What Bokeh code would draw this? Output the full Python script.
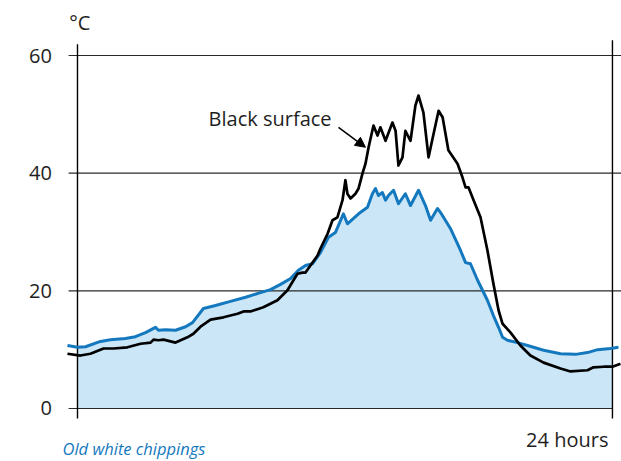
import numpy as np
from bokeh.plotting import figure
from bokeh.models import Range1d, Label, Arrow, NormalHead
from bokeh.embed import file_html
from bokeh.resources import INLINE

# hours of the day and surface temperatures (°C)
white_hours = [-0.45, 0.0, 0.36, 1.03, 1.48, 2.15, 2.60, 3.05, 3.50, 3.63, 3.95, 4.40, 4.85, 5.16,
               5.65, 6.19, 6.86, 7.54, 8.21, 8.66, 9.11, 9.56, 9.91, 10.23, 10.54, 10.90, 11.26,
               11.57, 11.93, 12.11, 12.61, 13.01, 13.23, 13.37, 13.50, 13.68, 13.82, 13.95, 14.18,
               14.40, 14.71, 14.94, 15.30, 15.61, 15.84, 16.15, 16.29, 16.73, 17.18, 17.41, 17.63,
               17.95, 18.39, 18.66, 18.89, 19.07, 19.29, 19.74, 20.19, 20.91, 21.67, 22.34, 22.88,
               23.33, 23.91, 24.0, 24.27]
white_temp = [10.7, 10.4, 10.5, 11.4, 11.7, 11.9, 12.2, 12.9, 13.8, 13.3, 13.4, 13.3, 13.9, 14.6,
              17.0, 17.5, 18.2, 18.9, 19.7, 20.2, 21.1, 22.1, 23.5, 24.3, 24.6, 26.5, 29.1,
              29.9, 33.1, 31.4, 33.1, 34.2, 36.5, 37.4, 36.2, 36.7, 35.4, 36.2, 37.1,
              34.8, 36.5, 34.5, 37.1, 34.5, 32.0, 34.0, 33.3, 30.6, 26.9, 24.8, 24.6,
              21.8, 18.4, 15.8, 13.8, 12.1, 11.6, 11.2, 10.7, 9.9, 9.3, 9.2, 9.5,
              10.0, 10.2, 10.25, 10.4]

black_hours = [-0.45, 0.13, 0.58, 1.17, 1.62, 2.24, 2.83, 3.28, 3.41, 3.63, 3.86, 4.40, 4.93, 5.20,
               5.52, 5.97, 6.55, 7.18, 7.45, 7.76, 8.34, 8.97, 9.42, 9.69, 9.87, 10.09, 10.23,
               10.45, 10.77, 10.90, 11.22, 11.44, 11.66, 11.89, 12.02, 12.11, 12.25, 12.47, 12.61,
               12.79, 12.92, 13.06, 13.28, 13.46, 13.59, 13.82, 14.13, 14.27, 14.40, 14.58, 14.71,
               14.94, 15.16, 15.30, 15.52, 15.75, 15.93, 16.20, 16.38, 16.64, 17.05, 17.27, 17.41,
               17.54, 17.77, 18.08, 18.39, 18.66, 18.89, 19.07, 19.43, 19.87, 20.32, 20.91, 21.67,
               22.12, 22.88, 23.15, 23.60, 24.00, 24.36]
black_temp = [9.3, 9.0, 9.3, 10.2, 10.2, 10.4, 11.0, 11.2, 11.7, 11.6, 11.7, 11.2, 12.1, 12.7,
              13.9, 15.1, 15.5, 16.1, 16.5, 16.5, 17.2, 18.4, 20.1, 21.8, 22.9, 23.1, 23.1,
              24.3, 26.0, 27.2, 29.7, 32.0, 32.5, 35.4, 38.8, 36.5, 35.7, 36.5, 37.4,
              40.0, 41.6, 44.4, 48.1, 46.4, 47.8, 45.5, 48.6, 47.2, 41.3, 42.7, 47.2,
              45.5, 51.5, 53.2, 50.3, 42.7, 45.9, 50.6, 49.5, 43.9, 41.6, 39.3, 37.6,
              37.6, 35.4, 32.5, 26.9, 21.2, 16.7, 14.4, 12.9, 10.7, 9.0, 7.8, 6.8,
              6.3, 6.5, 7.0, 7.1, 7.1, 7.6]

y_ticks = [0, 20, 40, 60]
y_tick_labels = ["0", "20", "40", "60"]
day_start, day_end = 0, 24

BLUE = "#1478be"
FILL = "#cbe6f7"
INK = "#1e1e1e"
FONT = "Open Sans"

X0, X1 = -3.454, 24.406
Y0, Y1 = -9.01, 69.35

p = figure(width=621, height=461, output_backend="svg", toolbar_location=None,
           x_range=Range1d(X0, X1), y_range=Range1d(Y0, Y1),
           min_border_left=0, min_border_right=0, min_border_top=0, min_border_bottom=0)
p.outline_line_color = None
p.axis.visible = False
p.grid.visible = False
p.background_fill_color = "white"
p.border_fill_color = "white"

# area under white chippings
wh = np.array(white_hours)
wt = np.array(white_temp)
mask = (wh >= day_start) & (wh <= day_end)
p.varea(x=wh[mask], y1=0, y2=wt[mask], fill_color=FILL)

# horizontal rules with outward ticks
grid_x1 = [day_end if t == 0 else X1 for t in y_ticks]
p.segment(x0=[-0.4] * len(y_ticks), y0=y_ticks, x1=grid_x1, y1=y_ticks,
          line_color="#2a2a2a", line_width=1.2)
# vertical frame lines at start and end of day
p.segment(x0=[day_start, day_end], y0=[-1.7, -1.7], x1=[day_start, day_end], y1=[61.9, 62.6],
          line_color="black", line_width=1.4)

p.text(x=[-1.15] * len(y_ticks), y=y_ticks, text=y_tick_labels, text_font={"value": FONT},
       text_font_size="20px", text_align="right", text_baseline="middle", text_color=INK)

p.line(white_hours, white_temp, line_color=BLUE, line_width=3, line_join="round")
p.line(black_hours, black_temp, line_color="black", line_width=2.7, line_join="round")

p.add_layout(Label(x=0.1, y=65.6, text="°C", text_font=FONT, text_font_size="20px",
                   text_align="center", text_baseline="middle", text_color=INK))
p.add_layout(Label(x=23.82, y=-5.2, text="24 hours", text_font=FONT, text_font_size="20px",
                   text_align="right", text_baseline="middle", text_color=INK))
p.add_layout(Label(x=-0.67, y=-4.9, text="Old white chippings", text_font=FONT,
                   text_font_size="16.5px", text_font_style="italic", text_align="left",
                   text_baseline="top", text_color=BLUE))
p.add_layout(Label(x=8.64, y=49.3, text="Black surface", text_font=FONT, text_font_size="20px",
                   text_align="center", text_baseline="middle", text_color=INK))
p.add_layout(Arrow(x_start=11.71, y_start=47.8, x_end=12.92, y_end=44.4,
                   line_color="black", line_width=1.5,
                   end=NormalHead(size=10, fill_color="black", line_color="black")))

open("out.html", "w").write(file_html(p, INLINE))
